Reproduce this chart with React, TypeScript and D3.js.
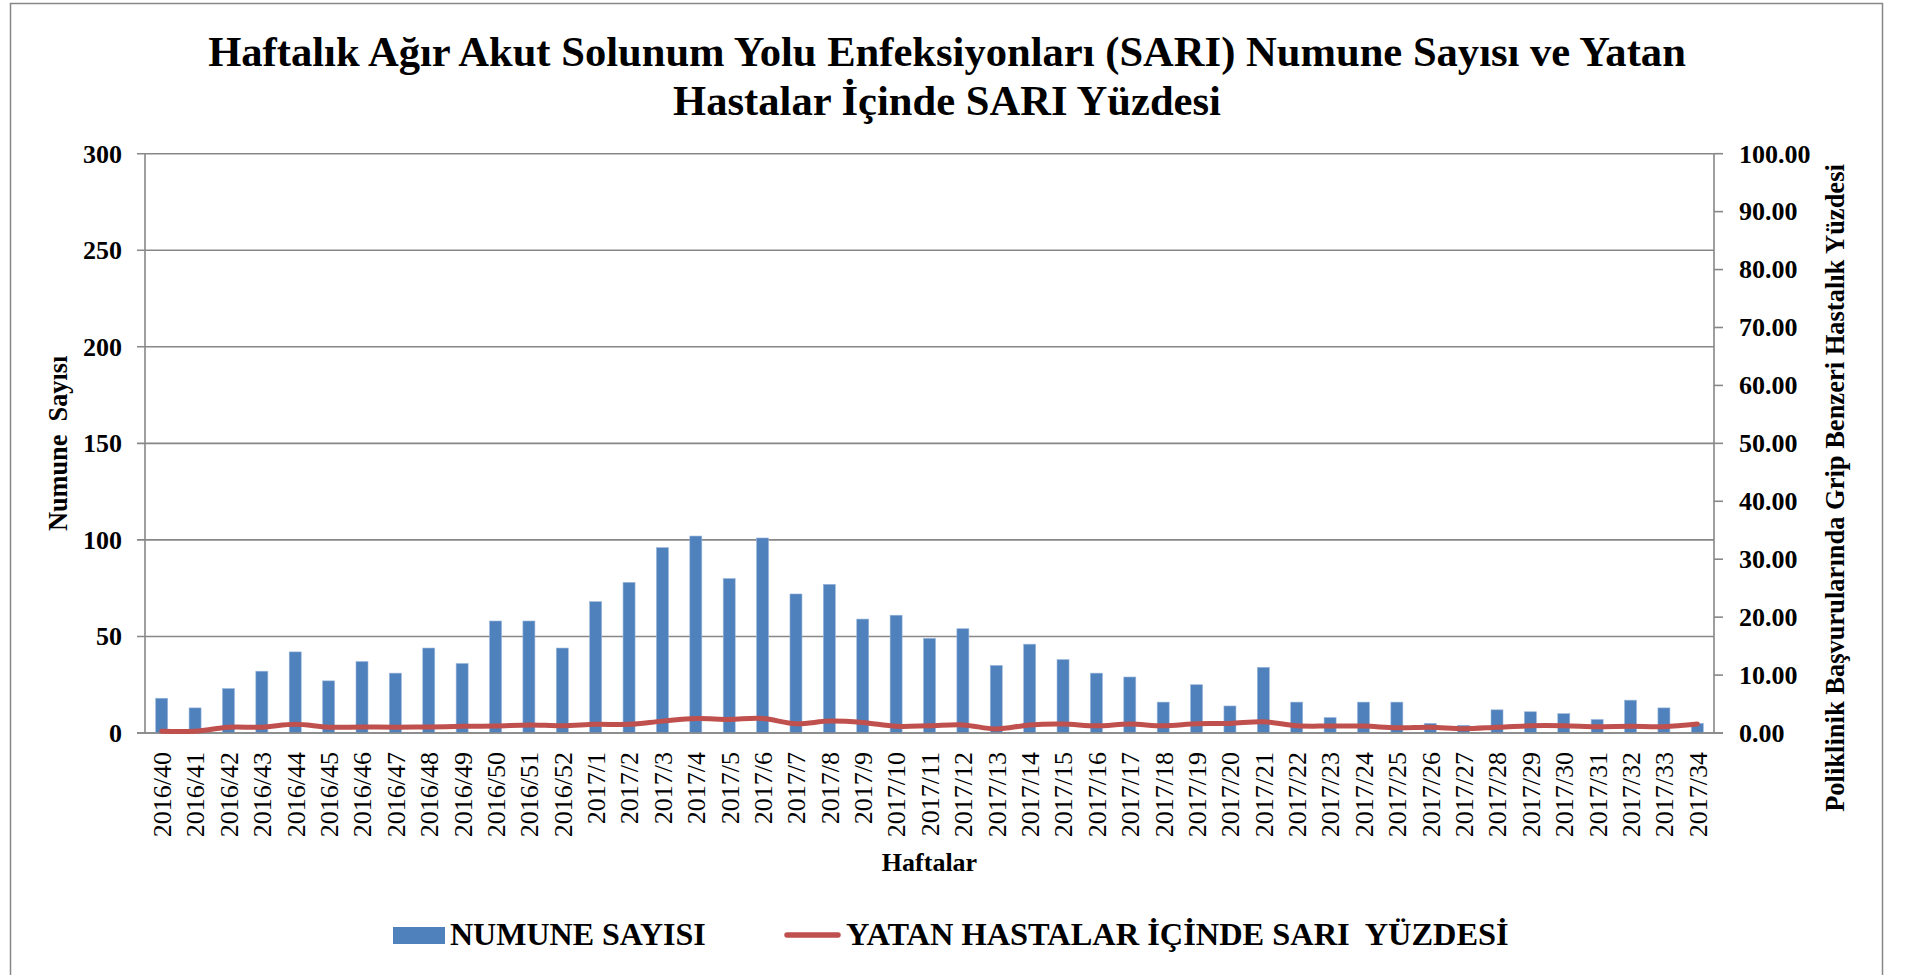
import { useEffect, useRef } from 'react';
import * as d3 from 'd3';

const weeks = [
  '2016/40', '2016/41', '2016/42', '2016/43', '2016/44', '2016/45', '2016/46', '2016/47', '2016/48',
  '2016/49', '2016/50', '2016/51', '2016/52', '2017/1', '2017/2', '2017/3', '2017/4', '2017/5',
  '2017/6', '2017/7', '2017/8', '2017/9', '2017/10', '2017/11', '2017/12', '2017/13', '2017/14',
  '2017/15', '2017/16', '2017/17', '2017/18', '2017/19', '2017/20', '2017/21', '2017/22', '2017/23',
  '2017/24', '2017/25', '2017/26', '2017/27', '2017/28', '2017/29', '2017/30', '2017/31', '2017/32',
  '2017/33', '2017/34',
];

const sampleCounts = [
  18, 13, 23, 32, 42, 27, 37, 31, 44, 36, 58, 58, 44,
  68, 78, 96, 102, 80, 101, 72, 77, 59, 61, 49, 54, 35, 46, 38, 31, 29, 16, 25, 14, 34,
  16, 8, 16, 16, 5, 4, 12, 11, 10, 7, 17, 13, 5,
];

const sariPercent = [
  0.3, 0.3, 1.0, 1.0, 1.5, 1.0, 1.05, 1.0, 1.05, 1.15, 1.2, 1.4, 1.25,
  1.5, 1.5, 2.05, 2.5, 2.35, 2.5, 1.6, 2.05, 1.8, 1.15, 1.25, 1.4, 0.7, 1.4, 1.55, 1.25, 1.55, 1.25, 1.6, 1.65, 1.95,
  1.25, 1.2, 1.2, 0.9, 1.0, 0.75, 1.0, 1.25, 1.25, 1.1, 1.15, 1.1, 1.55,
];

const leftTicks = [0, 50, 100, 150, 200, 250, 300];
const rightTicks = [0, 10, 20, 30, 40, 50, 60, 70, 80, 90, 100];

const titleLines = [
  'Haftalık Ağır Akut Solunum Yolu Enfeksiyonları (SARI) Numune Sayısı ve Yatan',
  'Hastalar İçinde SARI Yüzdesi',
];
const barLegend = 'NUMUNE SAYISI';
const lineLegend = 'YATAN HASTALAR İÇİNDE SARI  YÜZDESİ';

const W = 1908;
const H = 975;
const FONT = '"Liberation Serif", "Times New Roman", serif';
const BLUE = '#4F81BD';
const RED = '#C0504D';
const GRID = '#878787';

export default function App() {
  const svgRef = useRef<SVGSVGElement>(null);

  useEffect(() => {
    if (!svgRef.current) return;
    const svg = d3.select(svgRef.current);
    svg.selectAll('*').remove();

    const plot = { left: 145, right: 1714, top: 153.7, bottom: 733 };

    // outer chart frame
    svg.append('rect')
      .attr('x', 10.5).attr('y', 3.5)
      .attr('width', 1872).attr('height', 1000)
      .attr('fill', '#fff')
      .attr('stroke', GRID)
      .attr('stroke-width', 1.5);

    // title
    svg.append('g')
      .selectAll('text')
      .data(titleLines)
      .enter()
      .append('text')
      .attr('x', 947)
      .attr('y', (_, i) => 66 + i * 49)
      .attr('text-anchor', 'middle')
      .attr('font-family', FONT)
      .attr('font-weight', 'bold')
      .attr('font-size', '42.6px')
      .text(d => d);

    const x = d3.scaleBand<string>()
      .domain(weeks)
      .range([plot.left, plot.right])
      .paddingInner(0.64)
      .paddingOuter(0.32);

    const yLeft = d3.scaleLinear().domain([0, 300]).range([plot.bottom, plot.top]);
    const yRight = d3.scaleLinear().domain([0, 100]).range([plot.bottom, plot.top]);

    // gridlines + left ticks
    const gl = svg.append('g');
    gl.selectAll('line.grid')
      .data(leftTicks)
      .enter()
      .append('line')
      .attr('x1', plot.left - 8)
      .attr('x2', plot.right)
      .attr('y1', d => yLeft(d))
      .attr('y2', d => yLeft(d))
      .attr('stroke', GRID)
      .attr('stroke-width', 1.6);

    gl.selectAll('text')
      .data(leftTicks)
      .enter()
      .append('text')
      .attr('x', 122)
      .attr('y', d => yLeft(d))
      .attr('dy', '0.34em')
      .attr('text-anchor', 'end')
      .attr('font-family', FONT)
      .attr('font-weight', 'bold')
      .attr('font-size', '26px')
      .text(d => d);

    // left and right axis lines
    svg.append('line')
      .attr('x1', plot.left).attr('x2', plot.left)
      .attr('y1', plot.top).attr('y2', plot.bottom)
      .attr('stroke', GRID).attr('stroke-width', 1.6);
    svg.append('line')
      .attr('x1', plot.right).attr('x2', plot.right)
      .attr('y1', plot.top).attr('y2', plot.bottom)
      .attr('stroke', GRID).attr('stroke-width', 1.6);

    // right ticks + labels
    const gr = svg.append('g');
    gr.selectAll('line')
      .data(rightTicks)
      .enter()
      .append('line')
      .attr('x1', plot.right)
      .attr('x2', plot.right + 9)
      .attr('y1', d => yRight(d))
      .attr('y2', d => yRight(d))
      .attr('stroke', GRID)
      .attr('stroke-width', 1.6);

    gr.selectAll('text')
      .data(rightTicks)
      .enter()
      .append('text')
      .attr('x', 1739)
      .attr('y', d => yRight(d))
      .attr('dy', '0.34em')
      .attr('text-anchor', 'start')
      .attr('font-family', FONT)
      .attr('font-weight', 'bold')
      .attr('font-size', '26px')
      .text(d => d.toFixed(2));

    // bars
    const bw = 12;
    svg.append('g')
      .selectAll('rect')
      .data(sampleCounts)
      .enter()
      .append('rect')
      .attr('x', (_, i) => (x(weeks[i]) ?? 0) + x.bandwidth() / 2 - bw / 2)
      .attr('y', d => yLeft(d))
      .attr('width', bw)
      .attr('height', d => plot.bottom - yLeft(d))
      .attr('fill', BLUE)
      .attr('stroke', '#9BB7DA')
      .attr('stroke-width', 0.6);

    // baseline over bars
    svg.append('line')
      .attr('x1', plot.left - 8).attr('x2', plot.right + 9)
      .attr('y1', plot.bottom).attr('y2', plot.bottom)
      .attr('stroke', GRID).attr('stroke-width', 1.6);

    // line series
    const line = d3.line<number>()
      .x((_, i) => (x(weeks[i]) ?? 0) + x.bandwidth() / 2)
      .y(d => yRight(d))
      .curve(d3.curveCatmullRom.alpha(0.5));

    svg.append('path')
      .datum(sariPercent)
      .attr('fill', 'none')
      .attr('stroke', RED)
      .attr('stroke-width', 5)
      .attr('stroke-linejoin', 'round')
      .attr('stroke-linecap', 'round')
      .attr('d', line);

    // x labels
    svg.append('g')
      .selectAll('text')
      .data(weeks)
      .enter()
      .append('text')
      .attr('transform', d => `translate(${(x(d) ?? 0) + x.bandwidth() / 2}, 752) rotate(-90)`)
      .attr('dy', '0.36em')
      .attr('text-anchor', 'end')
      .attr('font-family', FONT)
      .attr('font-size', '26px')
      .text(d => d);

    // axis titles
    svg.append('text')
      .attr('x', (plot.left + plot.right) / 2)
      .attr('y', 871)
      .attr('text-anchor', 'middle')
      .attr('font-family', FONT)
      .attr('font-weight', 'bold')
      .attr('font-size', '26px')
      .text('Haftalar');

    svg.append('text')
      .attr('transform', `translate(67, ${(plot.top + plot.bottom) / 2}) rotate(-90)`)
      .attr('text-anchor', 'middle')
      .attr('font-family', FONT)
      .attr('font-weight', 'bold')
      .attr('font-size', '26.3px')
      .style('white-space', 'pre')
      .text('Numune  Sayısı');

    svg.append('text')
      .attr('transform', 'translate(1844, 488) rotate(-90)')
      .attr('text-anchor', 'middle')
      .attr('font-family', FONT)
      .attr('font-weight', 'bold')
      .attr('font-size', '26.5px')
      .text('Poliklinik Başvurularında Grip Benzeri Hastalık Yüzdesi');

    // legend
    const lg = svg.append('g');
    lg.append('rect')
      .attr('x', 393).attr('y', 927)
      .attr('width', 52).attr('height', 17)
      .attr('fill', BLUE);
    lg.append('text')
      .attr('x', 450).attr('y', 945)
      .attr('font-family', FONT)
      .attr('font-weight', 'bold')
      .attr('font-size', '32px')
      .text(barLegend);
    lg.append('line')
      .attr('x1', 787).attr('x2', 838)
      .attr('y1', 935).attr('y2', 935)
      .attr('stroke', RED)
      .attr('stroke-width', 5.5)
      .attr('stroke-linecap', 'round');
    lg.append('text')
      .attr('x', 846).attr('y', 945)
      .attr('font-family', FONT)
      .attr('font-weight', 'bold')
      .attr('font-size', '32.4px')
      .style('white-space', 'pre')
      .text(lineLegend);
  }, []);

  return (
    <svg
      ref={svgRef}
      width={W}
      height={H}
      style={{ display: 'block', position: 'absolute', left: 0, top: 0, background: '#fff' }}
    />
  );
}
